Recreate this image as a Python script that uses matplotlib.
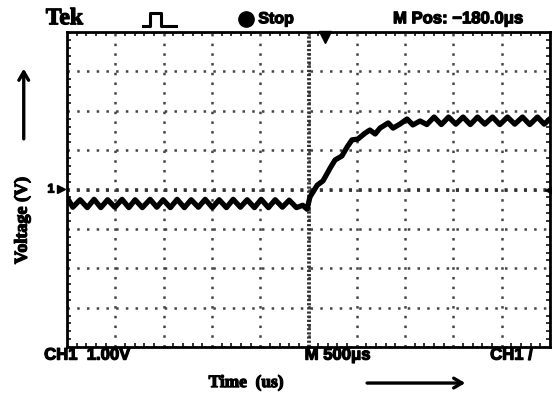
import matplotlib
matplotlib.use("Agg")
import matplotlib.pyplot as plt
import matplotlib.patheffects as pe
from matplotlib.lines import Line2D
from matplotlib.patches import FancyArrowPatch
from matplotlib.ticker import MultipleLocator

# scope trace, in screen divisions (x: 500 us/div, y: 1 V/div)
base_t = [-5.00, -4.88, -4.73, -4.58, -4.44, -4.30, -4.16, -4.01, -3.86, -3.72,
          -3.59, -3.44, -3.28, -3.14, -3.01, -2.86, -2.72, -2.57, -2.43, -2.28,
          -2.14, -1.99, -1.85, -1.70, -1.56, -1.41, -1.27, -1.12, -0.98, -0.83,
          -0.69, -0.54, -0.40, -0.25, -0.12, -0.03]
base_v = [-0.20, -0.45, -0.26, -0.46, -0.25, -0.46, -0.26, -0.45, -0.25, -0.46,
          -0.26, -0.46, -0.25, -0.45, -0.26, -0.46, -0.25, -0.46, -0.26, -0.45,
          -0.25, -0.46, -0.26, -0.46, -0.25, -0.45, -0.26, -0.46, -0.25, -0.46,
          -0.26, -0.45, -0.27, -0.46, -0.40, -0.50]
rise_t = [0.03, 0.18, 0.30, 0.45, 0.55, 0.69, 0.80, 0.90, 1.02, 1.17,
          1.27, 1.38, 1.48, 1.65, 1.75, 1.89, 2.04, 2.16, 2.31]
rise_v = [-0.19, 0.11, 0.22, 0.55, 0.75, 0.85, 1.08, 1.26, 1.28, 1.43,
          1.51, 1.41, 1.56, 1.69, 1.56, 1.66, 1.79, 1.64, 1.74]
top_t = [2.45, 2.60, 2.75, 2.90, 3.05, 3.20, 3.35, 3.50, 3.65, 3.81,
         3.96, 4.12, 4.27, 4.43, 4.58, 4.74, 4.88, 5.00]
top_v = [1.65, 1.84, 1.65, 1.84, 1.66, 1.84, 1.65, 1.84, 1.66, 1.84,
         1.65, 1.84, 1.66, 1.84, 1.65, 1.84, 1.66, 1.80]

trace_t = base_t + rise_t + top_t
trace_v = base_v + rise_v + top_v

plt.rcParams['lines.scale_dashes'] = False
heavy = [pe.withStroke(linewidth=0.9, foreground='black')]
bold_sans = dict(family='Liberation Sans', weight='bold', path_effects=heavy)
bold_serif = dict(family='Liberation Serif', weight='bold', path_effects=heavy)

fig = plt.figure(figsize=(5.52, 3.99), dpi=100)
ax = fig.add_axes([0.1214, 0.1303, 0.8750, 0.7895])
ax.set_xlim(-5, 5)
ax.set_ylim(-4, 4)

# dotted graticule
ax.xaxis.set_major_locator(MultipleLocator(1))
ax.yaxis.set_major_locator(MultipleLocator(1))
ax.xaxis.set_minor_locator(MultipleLocator(0.2))
ax.yaxis.set_minor_locator(MultipleLocator(0.2))
ax.grid(True, which='major', color='#444444', lw=1.8, linestyle=(0, (1.8, 5.2)))
ax.axhline(0, color='#333333', lw=2.6, linestyle=(0, (2.2, 4.8)))
ax.axvline(0, color='#333333', lw=2.8, linestyle=(0, (1.6, 1.4)))
ax.tick_params(which='both', direction='in', top=True, right=True,
               labelbottom=False, labelleft=False, color='#222222')
ax.tick_params(which='major', length=0)
ax.tick_params(which='minor', length=3, width=1.3)
for s in ax.spines.values():
    s.set_linewidth(2.0)

ax.plot(trace_t, trace_v, color='black', lw=3.8, solid_joinstyle='round',
        solid_capstyle='round', zorder=5)

# channel / trigger markers
ax.plot([5.0], [0], marker='<', color='black', ms=7, clip_on=False, zorder=6)
ax.plot([0.35], [3.88], marker='v', color='black', ms=8, clip_on=False, zorder=6)
ax.plot([-5.12], [0.02], marker='>', color='black', ms=6, clip_on=False, zorder=6)
fig.text(0.086, 0.525, '1', fontsize=9, va='center', **bold_sans)

# top status line
fig.text(0.083, 0.953, 'Tek', fontsize=17, va='center', **bold_serif)
pulse = Line2D([0.259, 0.272, 0.272, 0.292, 0.292, 0.318],
               [0.935, 0.935, 0.967, 0.967, 0.935, 0.935],
               transform=fig.transFigure, color='black', lw=2.2)
fig.add_artist(pulse)
fig.add_artist(Line2D([0.446], [0.953], marker='o', ms=11, color='black',
                      transform=fig.transFigure))
fig.text(0.468, 0.953, 'Stop', fontsize=11.5, va='center', **bold_sans)
fig.text(0.712, 0.953, 'M Pos: \u2212180.0\u03bcs', fontsize=12, va='center', **bold_sans)

# bottom status line
fig.text(0.080, 0.110, 'CH1  1.00V', fontsize=12, va='center', **bold_sans)
fig.text(0.552, 0.110, 'M 500\u03bcs', fontsize=12, va='center', **bold_sans)
fig.text(0.888, 0.110, 'CH1 /', fontsize=12, va='center', **bold_sans)

# axis captions with arrows
fig.text(0.446, 0.040, 'Time  (us)', fontsize=12.5, ha='center', va='center', **bold_serif)
fig.text(0.040, 0.447, 'Voltage (V)', fontsize=13, rotation=90, ha='center',
         va='center', **bold_serif)
fig.add_artist(FancyArrowPatch(
    (0.660, 0.040), (0.848, 0.040), transform=fig.transFigure,
    arrowstyle='->,head_length=6,head_width=3.5', lw=2.4, color='black'))
fig.add_artist(FancyArrowPatch(
    (0.043, 0.645), (0.043, 0.835), transform=fig.transFigure,
    arrowstyle='->,head_length=6,head_width=3.5', lw=2.4, color='black'))

fig.savefig('out.png', dpi=100)
